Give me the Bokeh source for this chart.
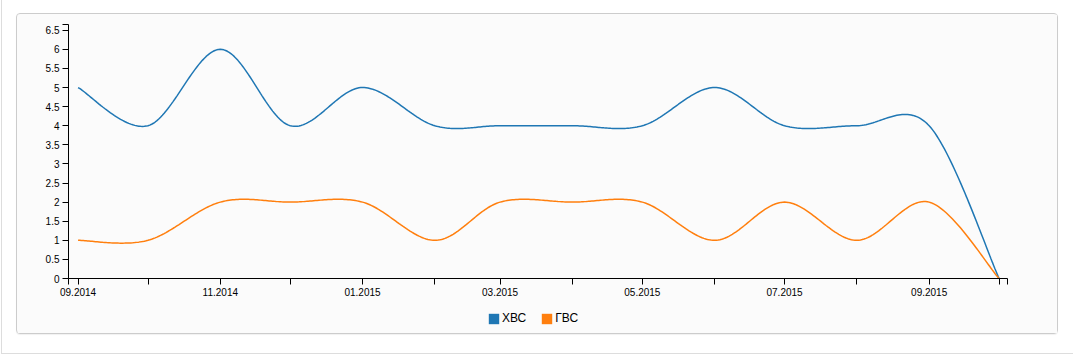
from datetime import datetime, timezone
from bokeh.plotting import figure
from bokeh.layouts import column
from bokeh.models import (Range1d, FixedTicker, CustomJSTickFormatter,
                          Legend, LegendItem)
from bokeh.embed import file_html
from bokeh.resources import INLINE

# ---- data ----
months = ["2014-09", "2014-10", "2014-11", "2014-12", "2015-01", "2015-02", "2015-03",
          "2015-04", "2015-05", "2015-06", "2015-07", "2015-08", "2015-09", "2015-10"]
xvs = [5, 4, 6, 4, 5, 4, 4, 4, 4, 5, 4, 4, 4, 0]   # ХВС
gvs = [1, 1, 2, 2, 2, 1, 2, 2, 2, 1, 2, 1, 2, 0]   # ГВС
series_names = ["ХВС", "ГВС"]
series_colors = ["#1f77b4", "#ff7f0e"]
series_values = [xvs, gvs]
y_ticks = [0, 0.5, 1, 1.5, 2, 2.5, 3, 3.5, 4, 4.5, 5, 5.5, 6, 6.5]
y_top = 6.65

def to_ms(s):
    y, m = s.split("-")
    return datetime(int(y), int(m), 1, tzinfo=timezone.utc).timestamp() * 1000.0

xs = [to_ms(m) for m in months]

def cardinal(xv, yv, n=40, k=1/6):
    pts = list(zip(xv, yv))
    last = len(pts) - 1
    ox, oy = [], []
    for i in range(last):
        p0 = pts[max(i - 1, 0)]
        p1 = pts[i]
        p2 = pts[i + 1]
        p3 = pts[min(i + 2, last)]
        c1 = (p1[0] + k * (p2[0] - p0[0]), p1[1] + k * (p2[1] - p0[1]))
        c2 = (p2[0] - k * (p3[0] - p1[0]), p2[1] - k * (p3[1] - p1[1]))
        for j in range(n + (1 if i == last - 1 else 0)):
            t = j / n
            a = (1 - t) ** 3
            b = 3 * (1 - t) ** 2 * t
            c = 3 * (1 - t) * t ** 2
            d = t ** 3
            ox.append(a * p1[0] + b * c1[0] + c * c2[0] + d * p2[0])
            oy.append(a * p1[1] + b * c1[1] + c * c2[1] + d * p2[1])
    return ox, oy

DAY = 86400000.0
x_start = xs[0] - 4.1 * DAY
x_end = xs[-1] + 3.6 * DAY
p = figure(width=1040, height=286, output_backend="svg", toolbar_location=None,
           x_axis_type="datetime",
           x_range=Range1d(x_start, x_end),
           y_range=Range1d(0, y_top),
           min_border_left=51, min_border_right=50, min_border_top=10, min_border_bottom=22)
p.border_fill_color = "#fbfbfb"
p.background_fill_color = "#fbfbfb"
p.outline_line_color = None
p.grid.visible = False

for vals, col in zip(series_values, series_colors):
    cx, cy = cardinal(xs, vals)
    p.line(cx, cy, line_color=col, line_width=1.5)

# axes
xa = p.xaxis[0]
xa.ticker = FixedTicker(ticks=[x_start] + xs + [x_end])
xa.formatter = CustomJSTickFormatter(code="""
const d = new Date(tick);
if (d.getUTCDate() != 1) return '';
const m = d.getUTCMonth() + 1;
if (m % 2 == 0) return '';
return (m < 10 ? '0' + m : '' + m) + '.' + d.getUTCFullYear();
""")
ya = p.yaxis[0]
ya.ticker = FixedTicker(ticks=y_ticks + [y_top])
ya.formatter = CustomJSTickFormatter(code="return (Math.abs(tick*2 - Math.round(tick*2)) > 1e-6) ? '' : String(tick);")
for ax in (xa, ya):
    ax.axis_line_color = "#000000"
    ax.axis_line_width = 1
    ax.major_tick_line_color = "#000000"
    ax.major_tick_out = 6
    ax.major_tick_in = 0
    ax.minor_tick_line_color = None
    ax.major_label_text_font = "Liberation Sans"
    ax.major_label_text_font_size = "10px"
    ax.major_label_text_color = "#000000"
xa.major_label_standoff = 3
ya.major_label_standoff = 3

# legend strip
pl = figure(width=1040, height=33, output_backend="svg", toolbar_location=None,
            x_range=p.x_range, y_range=p.y_range,
            x_axis_location=None, y_axis_location=None,
            min_border=0)
pl.border_fill_color = "#fbfbfb"
pl.background_fill_color = "#fbfbfb"
pl.outline_line_color = None
pl.grid.visible = False
renderers = []
for vals, col in zip(series_values, series_colors):
    r = pl.quad(left=xs[:1], right=xs[:1], bottom=vals[:1], top=vals[:1],
                fill_color=col, line_color=None)
    renderers.append(r)
legend = Legend(items=[LegendItem(label=n, renderers=[r]) for n, r in zip(series_names, renderers)],
                orientation="horizontal", location=(419, 8),
                border_line_color=None, background_fill_alpha=0,
                label_text_font="Liberation Sans", label_text_font_size="12px",
                label_text_color="#000000",
                glyph_width=13, glyph_height=13, label_standoff=2, spacing=14,
                padding=0, margin=0)
pl.add_layout(legend, "center")

inner = column(p, pl, spacing=0,
               styles={"border": "1px solid #cccccc", "border-radius": "4px",
                       "background-color": "#fbfbfb",
                       "box-shadow": "0 1px 1px rgba(0,0,0,0.06)"})
inner.margin = (13, 0, 0, 14)

layout = column(inner, width=1072, height=354,
                styles={"border-left": "1px solid #dddddd", "border-bottom": "1px solid #dddddd",
                        "background-color": "#ffffff", "margin-left": "1px"})

open("out.html", "w").write(file_html(layout, INLINE))
